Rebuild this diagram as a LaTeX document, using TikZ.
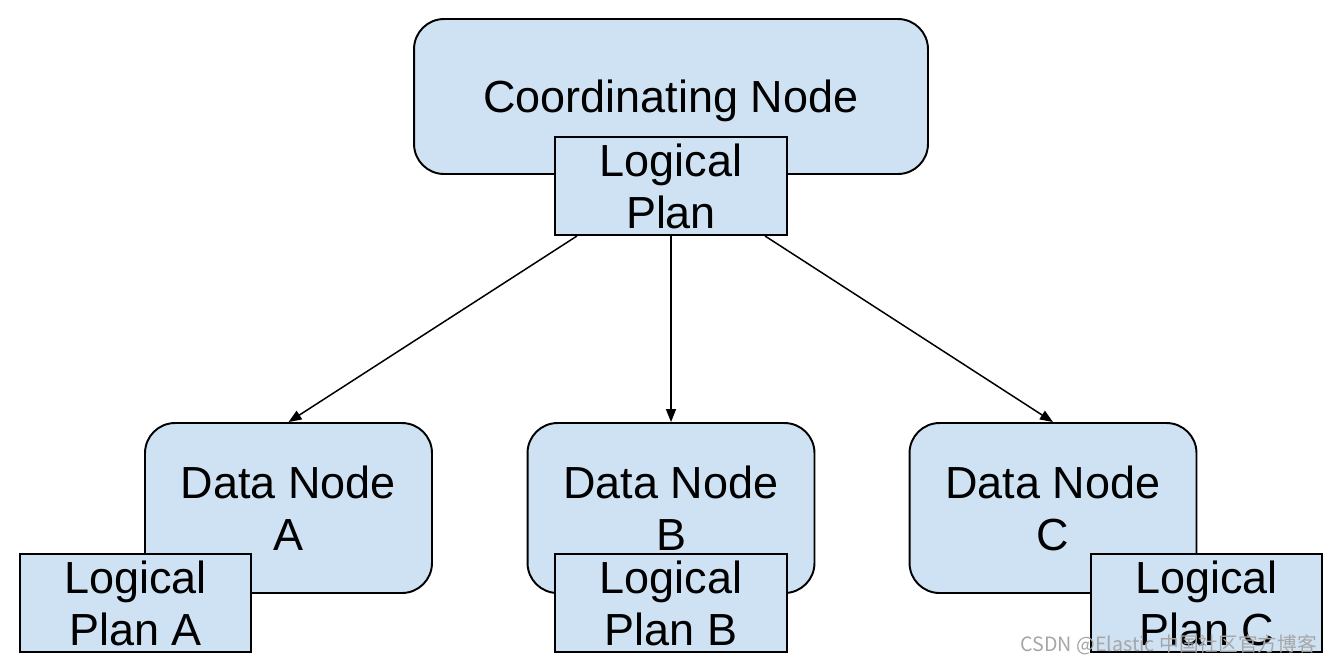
\documentclass[tikz,border=0pt]{standalone}
\usepackage{fontspec}
\setmainfont{Liberation Sans}
\newfontfamily\cjk{Noto Sans CJK SC}
\usetikzlibrary{arrows.meta, positioning}

\definecolor{boxblue}{RGB}{207,226,243}

\begin{document}
\begin{tikzpicture}[x=0.02cm, y=-0.02cm, align=center,
  font=\fontsize{25.6pt}{29.6pt}\selectfont,
  roundbox/.style={draw, line width=1.1pt, rounded corners=0.6cm, fill=boxblue, inner sep=0pt},
  planbox/.style={draw, line width=1.1pt, fill=boxblue, inner sep=0pt, minimum width=4.63cm, minimum height=1.96cm},
  link/.style={-{Triangle[length=0.26cm, width=0.2cm]}, line width=0.85pt}]
\useasboundingbox (0,0) rectangle (1337,664);

% coordinating node with its plan
\node (coord) [roundbox, minimum width=10.28cm, minimum height=3.1cm, text depth=0pt] at (671,96.5) {Coordinating Node};
\node (plan) [planbox] at (671,186) {Logical\\Plan};

% data nodes
\node (dnA) [roundbox, minimum width=5.74cm, minimum height=3.4cm] at (288.5,508) {Data Node\\A};
\node (dnB) [roundbox, minimum width=5.74cm, minimum height=3.4cm] at (671,508) {Data Node\\B};
\node (dnC) [roundbox, minimum width=5.74cm, minimum height=3.4cm] at (1053,508) {Data Node\\C};

\node (planA) [planbox] at (135.5,603) {Logical\\Plan A};
\node (planB) [planbox] at (671,603) {Logical\\Plan B};
\node (planC) [planbox] at (1206.5,603) {Logical\\Plan C};

\draw[link] ([xshift=-1.88cm]plan.south) -- (dnA.north);
\draw[link] (plan.south) -- (dnB.north);
\draw[link] ([xshift=1.88cm]plan.south) -- (dnC.north);

\node (mark) [text=gray!70, font=\cjk\fontsize{11.2pt}{12pt}\selectfont, anchor=east] at (1323,645) {CSDN @Elastic 中国社区官方博客};
\end{tikzpicture}
\end{document}
